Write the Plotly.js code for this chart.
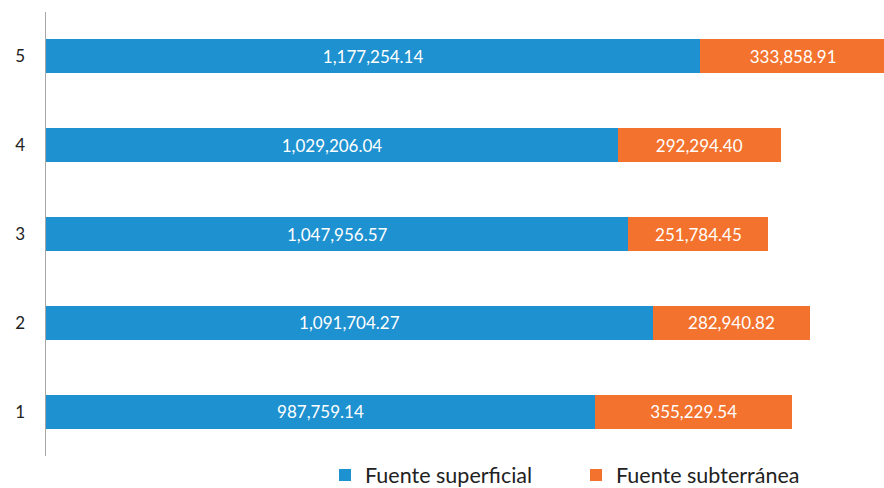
<!DOCTYPE html>
<html>
<head>
<meta charset="utf-8">
<script src="https://cdn.plot.ly/plotly-3.0.1.min.js"></script>
<style>html,body{margin:0;padding:0;background:#fff;}#chart{width:884px;height:488px;}</style>
</head>
<body>
<div id="chart"></div>
<script>
const categories = ["1", "2", "3", "4", "5"];
const superficial = [987759.14, 1091704.27, 1047956.57, 1029206.04, 1177254.14];
const subterranea = [355229.54, 282940.82, 251784.45, 292294.40, 333858.91];
const seriesNames = ["Fuente superficial", "Fuente subterránea"];

const common = {
  type: "bar",
  orientation: "h",
  y: categories,
  width: 0.385,
  texttemplate: "%{x:,.2f}",
  textposition: "inside",
  insidetextanchor: "middle",
  textfont: {family: "Lato, 'Open Sans', sans-serif", size: 17, color: "#ffffff"},
  hoverinfo: "x+name"
};
const data = [
  Object.assign({}, common, {x: superficial, name: seriesNames[0], marker: {color: "#1e91d0"}}),
  Object.assign({}, common, {x: subterranea, name: seriesNames[1], marker: {color: "#f3722d"}})
];
const layout = {
  width: 884, height: 488,
  margin: {l: 46, r: 0, t: 11.5, b: 31.5, autoexpand: false},
  barmode: "stack",
  showlegend: true,
  paper_bgcolor: "#ffffff",
  plot_bgcolor: "#ffffff",
  font: {family: "Lato, 'Open Sans', sans-serif", color: "#222"},
  xaxis: {range: [0, 1507700], autorange: false, visible: false, showgrid: false, zeroline: false, fixedrange: true},
  yaxis: {
    type: "category",
    range: [-0.5, 4.5],
    autorange: false,
    showline: true, linecolor: "#a6a6a6", linewidth: 1.5,
    ticks: "", showgrid: false, zeroline: false,
    tickfont: {size: 17, color: "#222"},
    ticklabelstandoff: 16
  },
  legend: {
    orientation: "h",
    xref: "container", yref: "container",
    x: 325 / 884, xanchor: "left",
    y: 13 / 488, yanchor: "middle",
    font: {size: 21.5, color: "#222"},
    traceorder: "normal",
    entrywidth: 206,
    itemwidth: 30,
    bgcolor: "rgba(0,0,0,0)"
  }
};
Plotly.newPlot("chart", data, layout, {displayModeBar: false, staticPlot: true});
</script>
</body>
</html>
